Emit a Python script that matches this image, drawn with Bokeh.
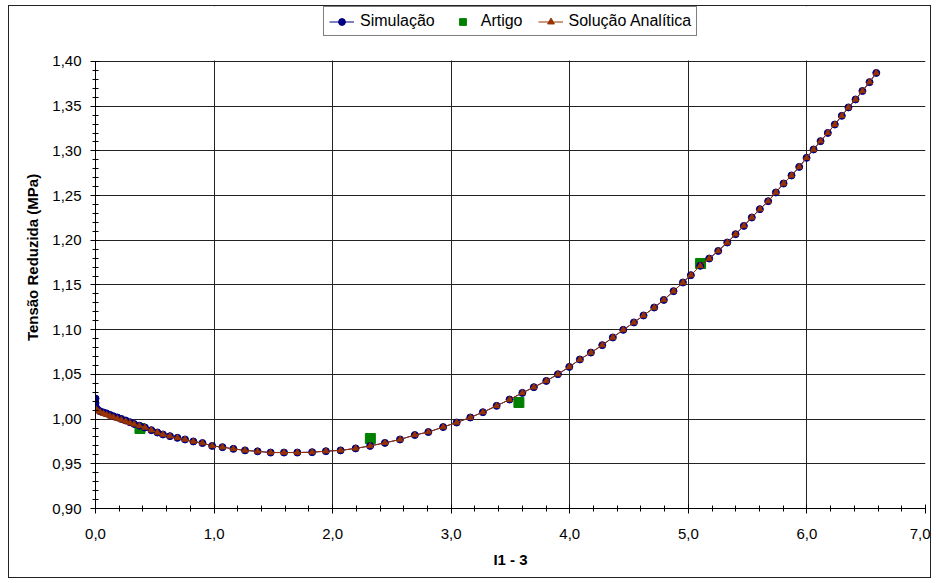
from bokeh.plotting import figure
from bokeh.models import (Legend, LegendItem, FixedTicker, CustomJSTickFormatter,
                          Range1d, ColumnDataSource, BoxAnnotation)
from bokeh.embed import file_html
from bokeh.resources import INLINE

# ---- data ----
sim_x = [0.000, 0.000, 0.002, 0.016, 0.038, 0.067, 0.094, 0.122, 0.151, 0.185,
         0.218, 0.255, 0.291, 0.325, 0.371, 0.417, 0.471, 0.522, 0.569, 0.628,
         0.691, 0.755, 0.825, 0.902, 0.984, 1.071, 1.163, 1.261, 1.367, 1.477,
         1.590, 1.702, 1.827, 1.943, 2.067, 2.194, 2.316, 2.441, 2.568, 2.693,
         2.807, 2.932, 3.046, 3.161, 3.267, 3.383, 3.492, 3.600, 3.697, 3.802,
         3.900, 3.996, 4.085, 4.178, 4.274, 4.363, 4.451, 4.541, 4.622, 4.712,
         4.793, 4.875, 4.954, 5.021, 5.100, 5.176, 5.252, 5.328, 5.398, 5.468,
         5.535, 5.603, 5.673, 5.738, 5.803, 5.870, 5.935, 5.997, 6.056, 6.115,
         6.176, 6.235, 6.294, 6.350, 6.410, 6.468, 6.528, 6.585]
sim_y = [1.0230, 1.0180, 1.0137, 1.0107, 1.0088, 1.0074, 1.0063, 1.0047, 1.0032, 1.0018,
         1.0002, 0.9984, 0.9965, 0.9946, 0.9926, 0.9906, 0.9876, 0.9850, 0.9828, 0.9809,
         0.9790, 0.9772, 0.9750, 0.9732, 0.9700, 0.9686, 0.9667, 0.9650, 0.9639, 0.9626,
         0.9626, 0.9626, 0.9630, 0.9641, 0.9650, 0.9672, 0.9700, 0.9734, 0.9772, 0.9822,
         0.9855, 0.9911, 0.9962, 1.0018, 1.0077, 1.0148, 1.0219, 1.0293, 1.0357, 1.0427,
         1.0502, 1.0584, 1.0667, 1.0744, 1.0827, 1.0913, 1.0998, 1.1081, 1.1159, 1.1248,
         1.1333, 1.1431, 1.1528, 1.1610, 1.1714, 1.1796, 1.1881, 1.1975, 1.2068, 1.2161,
         1.2255, 1.2348, 1.2437, 1.2535, 1.2635, 1.2725, 1.2821, 1.2922, 1.3016, 1.3109,
         1.3201, 1.3295, 1.3392, 1.3486, 1.3575, 1.3670, 1.3769, 1.3872]

ana_x = sim_x
ana_y = [1.0115, 1.0110, 1.0105, 1.0095, 1.0078, 1.0060, 1.0048, 1.0033, 1.0020, 1.0005,
         0.9990, 0.9973, 0.9957, 0.9942, 0.9924, 0.9906, 0.9876, 0.9850, 0.9828, 0.9809,
         0.9790, 0.9772, 0.9750, 0.9732, 0.9700, 0.9686, 0.9667, 0.9650, 0.9639, 0.9626,
         0.9626, 0.9626, 0.9630, 0.9641, 0.9650, 0.9672, 0.9700, 0.9734, 0.9772, 0.9822,
         0.9855, 0.9911, 0.9962, 1.0018, 1.0077, 1.0148, 1.0219, 1.0293, 1.0357, 1.0427,
         1.0502, 1.0584, 1.0667, 1.0744, 1.0827, 1.0913, 1.0998, 1.1081, 1.1159, 1.1248,
         1.1333, 1.1431, 1.1528, 1.1610, 1.1714, 1.1796, 1.1881, 1.1975, 1.2068, 1.2161,
         1.2255, 1.2348, 1.2437, 1.2535, 1.2635, 1.2725, 1.2821, 1.2922, 1.3016, 1.3109,
         1.3201, 1.3295, 1.3392, 1.3486, 1.3575, 1.3670, 1.3769, 1.3872]

art_x = [0.375, 2.318, 3.571, 5.103]
art_y = [0.9895, 0.9783, 1.0186, 1.1741]

x_ticks = [0, 1, 2, 3, 4, 5, 6, 7]
y_ticks = [0.90, 0.95, 1.00, 1.05, 1.10, 1.15, 1.20, 1.25, 1.30, 1.35, 1.40]

NAVY = "#000080"
BROWN = "#993300"
GREEN = "#008000"
FONT = "Liberation Sans"

# plot area: y from 0.90 to 1.40; the frame is extended upward so the legend
# (drawn above the plot area, as in the reference) stays inside the frame.
Y_LOW, Y_HIGH, Y_FRAME_TOP = 0.90, 1.40, 1.4615

p = figure(width=923, height=573, output_backend="svg", toolbar_location=None,
           x_range=Range1d(0, 7), y_range=Range1d(Y_LOW, Y_FRAME_TOP),
           min_border_left=86, min_border_right=7, min_border_top=0,
           min_border_bottom=71, background_fill_color="white",
           border_fill_color="white")
p.styles = {"border": "1px solid #222222", "margin-left": "8px", "margin-top": "5px"}

p.outline_line_color = None

# grid
p.xgrid.ticker = FixedTicker(ticks=x_ticks)
p.ygrid.ticker = FixedTicker(ticks=y_ticks)
p.grid.grid_line_color = "#222222"
p.grid.grid_line_width = 1

# axes
x_minor = [i * 0.2 for i in range(36)]
y_minor = [0.90 + i * 0.01 for i in range(51)]
p.xaxis.ticker = FixedTicker(ticks=x_ticks, minor_ticks=x_minor)
p.yaxis.ticker = FixedTicker(ticks=y_ticks, minor_ticks=y_minor)
p.yaxis.bounds = (Y_LOW, Y_HIGH)
p.xaxis.formatter = CustomJSTickFormatter(code="return tick.toFixed(1).replace('.', ',');")
p.yaxis.formatter = CustomJSTickFormatter(code="return tick.toFixed(2).replace('.', ',');")

for ax in (p.xaxis[0], p.yaxis[0]):
    ax.axis_line_color = "black"
    ax.major_tick_line_color = "black"
    ax.minor_tick_line_color = "black"
    ax.major_tick_in = 4
    ax.major_tick_out = 5
    ax.minor_tick_in = 3
    ax.minor_tick_out = 3
    ax.major_label_text_font = FONT
    ax.major_label_text_font_size = "15px"
    ax.major_label_text_color = "black"
    ax.axis_label_text_font = FONT
    ax.axis_label_text_font_size = "15px"
    ax.axis_label_text_font_style = "bold"
    ax.axis_label_text_color = "black"

p.xaxis.axis_label = "I1 - 3"
p.yaxis.axis_label = "Tensão Reduzida (MPa)"
p.xaxis.major_label_standoff = 15
p.xaxis.axis_label_standoff = 9
p.yaxis.major_label_standoff = 9
p.yaxis.axis_label_standoff = 8

# data renderers
art_src = ColumnDataSource(dict(x=art_x, y=art_y))
sim_src = ColumnDataSource(dict(x=sim_x, y=sim_y))
ana_src = ColumnDataSource(dict(x=ana_x, y=ana_y))

r_art = p.scatter("x", "y", source=art_src, marker="square", size=10,
                  fill_color=GREEN, line_color=GREEN)
r_sim_l = p.line("x", "y", source=sim_src, line_color=NAVY, line_width=1)
r_sim_m = p.scatter("x", "y", source=sim_src, marker="circle", size=7,
                    fill_color=NAVY, line_color=NAVY)
r_ana_l = p.line("x", "y", source=ana_src, line_color=BROWN, line_width=1)
r_ana_m = p.scatter("x", "y", source=ana_src, marker="triangle", size=6,
                    fill_color=BROWN, line_color=BROWN)

# white mask above the plot area (hides grid lines there)
p.add_layout(BoxAnnotation(bottom=Y_HIGH + 0.0012, fill_color="white", fill_alpha=1,
                           line_color=None, level="underlay"))

legend = Legend(items=[
    LegendItem(label="Simulação", renderers=[r_sim_l, r_sim_m]),
    LegendItem(label="Artigo", renderers=[r_art]),
    LegendItem(label="Solução Analítica", renderers=[r_ana_l, r_ana_m]),
], orientation="horizontal", location=(228, 472))
legend.label_text_font = FONT
legend.label_text_font_size = "16px"
legend.label_text_color = "black"
legend.glyph_width = 25
legend.glyph_height = 17
legend.label_height = 17
legend.label_standoff = 6
legend.spacing = 15
legend.padding = 5
legend.margin = 0
legend.border_line_color = "black"
legend.border_line_width = 1
legend.background_fill_color = "white"
legend.background_fill_alpha = 1
p.add_layout(legend)

open("out.html", "w").write(file_html(p, INLINE))
